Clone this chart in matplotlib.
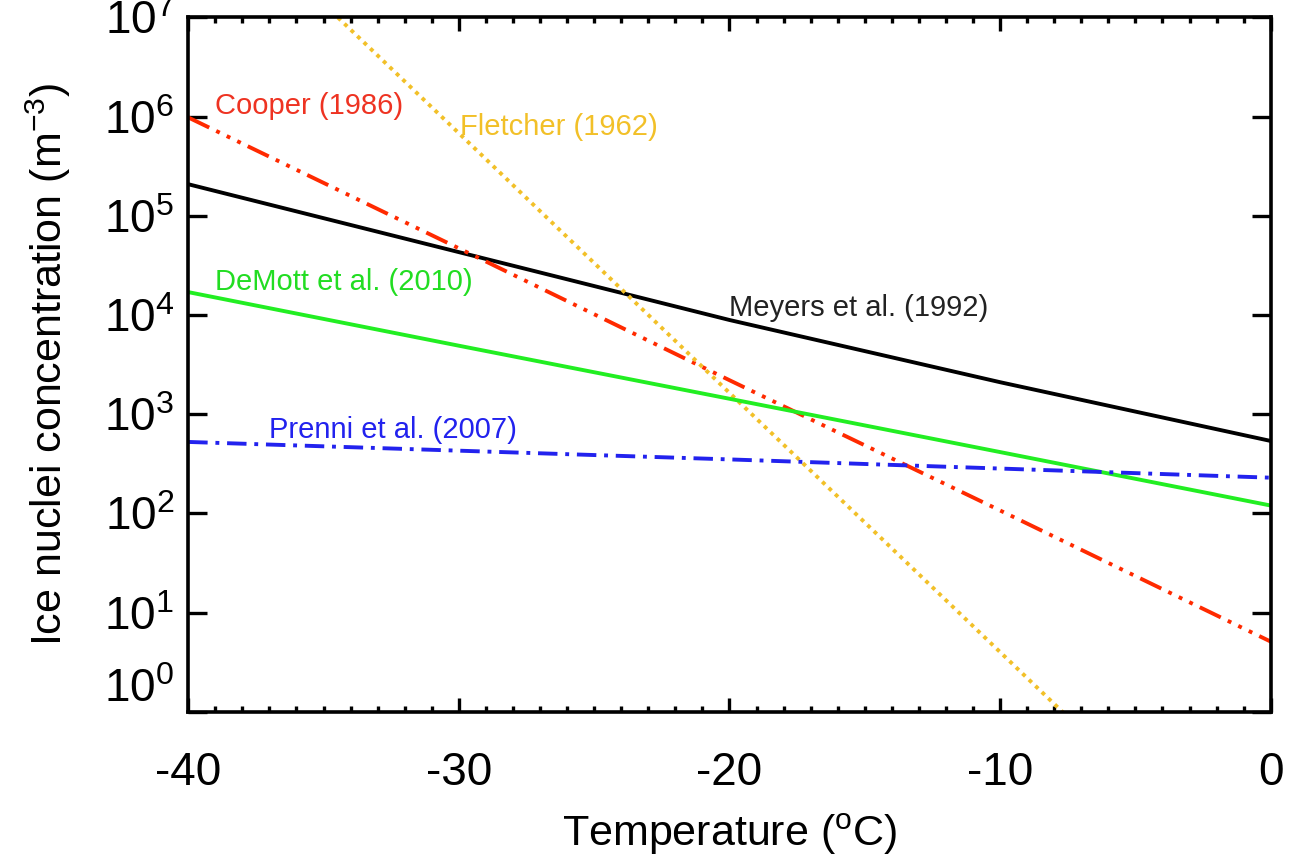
import matplotlib
matplotlib.use("Agg")
import matplotlib.pyplot as plt
from matplotlib.ticker import FixedLocator, MultipleLocator

plt.rcParams['font.family'] = ['Liberation Sans', 'DejaVu Sans']
plt.rcParams['mathtext.default'] = 'regular'

# values (m^-3)
meyers_t = [-40, -30, -20, -10, 0]
meyers_n = [2.08e5, 4.3e4, 8.9e3, 2.1e3, 537]

cooper_t = [-40, -30, -20, -10, 0]
cooper_n = [9.8e5, 4.7e4, 2.2e3, 107, 5.1]

fletcher_t = [-36, -30, -20, -10, -6]
fletcher_n = [2.5e7, 6.8e5, 1.64e3, 4.0, 0.36]

demott_t = [-40, -30, -20, -10, 0]
demott_n = [1.7e4, 4.9e3, 1.43e3, 415, 120]

prenni_t = [-40, -20, 0]
prenni_n = [525, 350, 229]

x_ticks = [-40, -30, -20, -10, 0]
y_ticks = [1e0, 1e1, 1e2, 1e3, 1e4, 1e5, 1e6, 1e7]
y_tick_labels = ['10$^{%d}$' % i for i in range(8)]

fig = plt.figure(figsize=(12.98, 8.67), dpi=100)
ax = fig.add_axes([0.145, 0.179, 0.834, 0.801])

lw = 2.8
ax.plot(meyers_t, meyers_n, color='black', lw=lw)
ax.plot(cooper_t, cooper_n, color='#ff2a00', lw=lw,
        linestyle=(0, (6, 2, 1, 2, 1, 2, 1, 2)))
ax.plot(fletcher_t, fletcher_n, color='#f2c028', lw=lw,
        linestyle=(0, (1, 1.3)))
ax.plot(demott_t, demott_n, color='#22ee22', lw=lw)
ax.plot(prenni_t, prenni_n, color='#2222ee', lw=lw,
        linestyle=(0, (5, 2, 1, 2)))

ax.set_yscale('log')
ax.set_xlim(-40, 0)
ax.set_ylim(1, 1e7)

ax.set_xticks(x_ticks)
ax.set_xticklabels([str(t) for t in x_ticks])
ax.xaxis.set_minor_locator(MultipleLocator(1))
ax.yaxis.set_major_locator(FixedLocator(y_ticks))
ax.set_yticklabels(y_tick_labels)
ax.yaxis.set_minor_locator(FixedLocator([]))

ax.tick_params(axis='both', which='both', direction='in', top=True, right=True,
               width=2.4, labelsize=33)
ax.tick_params(axis='x', which='major', length=10, pad=28)
ax.tick_params(axis='x', which='minor', length=4.5)
ax.tick_params(axis='y', which='major', length=14, pad=10)
for s in ax.spines.values():
    s.set_linewidth(2.6)

ax.get_yticklabels()[0].set_verticalalignment('bottom')

ax.set_xlabel('Temperature ($^{o}$C)', fontsize=31, labelpad=12)
ax.set_ylabel('Ice nuclei concentration (m$^{-3}$)', fontsize=31, labelpad=22)

fs = 21
ax.text(-39.0, 10**6.11, 'Cooper (1986)', color='#ee3322', fontsize=fs, va='center')
ax.text(-29.95, 10**5.89, 'Fletcher (1962)', color='#f2c028', fontsize=fs, va='center')
ax.text(-39.0, 10**4.33, 'DeMott et al. (2010)', color='#22dd22', fontsize=fs, va='center')
ax.text(-20.0, 10**4.07, 'Meyers et al. (1992)', color='#222222', fontsize=fs, va='center')
ax.text(-37.0, 10**2.84, 'Prenni et al. (2007)', color='#2222ee', fontsize=fs, va='center')

fig.savefig('out.png', dpi=100)
